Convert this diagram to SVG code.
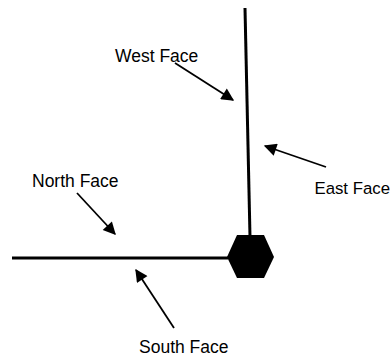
<svg xmlns="http://www.w3.org/2000/svg" width="392" height="357" viewBox="0 0 392 357">
<style>
.lbl{font-family:"Liberation Sans",Arial,sans-serif;font-size:17.5px;fill:#000}
.wall{stroke:#000;stroke-width:3;fill:none}
.ptr{stroke:#000;stroke-width:1.8;fill:none;marker-end:url(#ah)}
</style>
<defs>
<marker id="ah" viewBox="0 0 10 10" refX="9" refY="5" markerWidth="8" markerHeight="7" markerUnits="strokeWidth" orient="auto">
<path d="M0,0 L10,5 L0,10 z" fill="#000"/>
</marker>
</defs>
<rect width="392" height="357" fill="#fff"/>
<g id="walls">
<line class="wall" x1="245" y1="8" x2="250" y2="237"/>
<line class="wall" x1="12" y1="258" x2="228" y2="258"/>
</g>
<g id="column">
<polygon points="227,257 237,235 264,235 274,257 264,278 237,278" fill="#000"/>
</g>
<g id="connectors">
<line class="ptr" x1="175" y1="63" x2="233" y2="100"/>
<line class="ptr" x1="326" y1="167" x2="265" y2="146"/>
<line class="ptr" x1="77" y1="193" x2="115" y2="234"/>
<line class="ptr" x1="174" y1="328" x2="136" y2="270"/>
</g>
<g id="west-face"><text class="lbl" x="115" y="62">West Face</text></g>
<g id="east-face"><text class="lbl" x="390" y="194" text-anchor="end" style="font-size:16.8px">East Face</text></g>
<g id="north-face"><text class="lbl" x="32" y="187">North Face</text></g>
<g id="south-face"><text class="lbl" x="139" y="353">South Face</text></g>
</svg>
